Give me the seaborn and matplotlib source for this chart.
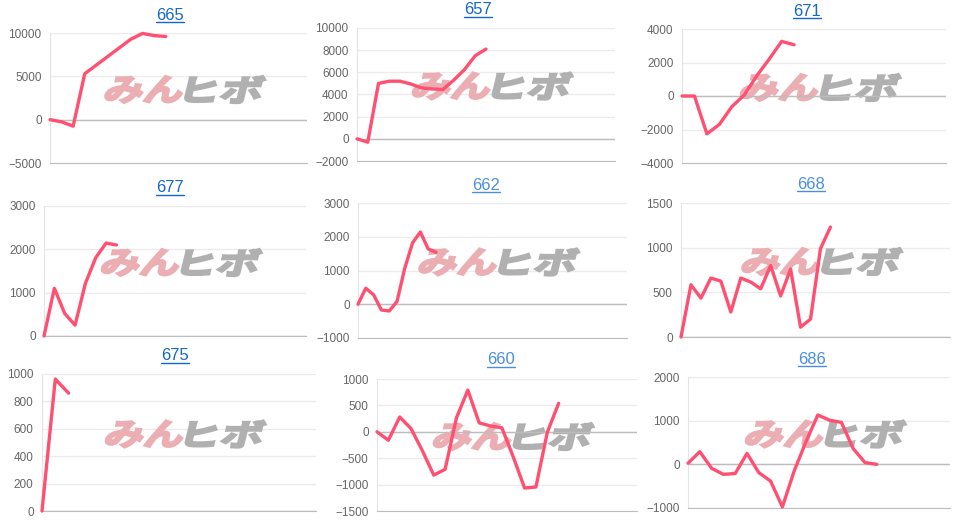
"""
Nine small slot-data line charts (machine numbers as titles),
laid out 3x3 with the site watermark behind each line.
"""
import numpy as np
import pandas as pd
import matplotlib
matplotlib.use("Agg")
import matplotlib.pyplot as plt
import matplotlib.transforms as mtransforms
from matplotlib.textpath import TextPath
from matplotlib.patches import PathPatch
from matplotlib.font_manager import FontProperties
from matplotlib.lines import Line2D
import seaborn as sns

''' data '''
titles = ["665", "657", "671", "677", "662", "668", "675", "660", "686"]

v665 = [0, -250, -750, 5300, 6300, 7300, 8300, 9300, 9950, 9700, 9600]
v657 = [0, -300, 5000, 5200, 5200, 4950, 4600, 4500, 4450, 5300, 6250, 7500, 8100]
v671 = [0, 0, -2260, -1700, -640, 60, 1200, 2200, 3260, 3060]
v677 = [0, 1100, 520, 250, 1215, 1810, 2145, 2100]
v662 = [0, 475, 280, -170, -200, 80, 1070, 1820, 2140, 1640, 1540]
v668 = [0, 585, 435, 660, 625, 280, 660, 615, 540, 800, 460, 760, 110, 200, 990, 1230]
v675 = [0, 963, 860]
v660 = [0, -160, 280, 60, -360, -820, -710, 265, 790, 170, 110, 75, -475, -1065, -1045, -10, 540]
v686 = [25, 290, -90, -230, -210, 250, -190, -385, -975, -150, 520, 1130, 1010, 960, 360, 40, 0]

series = [v665, v657, v671, v677, v662, v668, v675, v660, v686]

y_min = [-5000, -2000, -4000, 0, -1000, 0, 0, -1500, -1000]
y_max = [10000, 10000, 4000, 3000, 3000, 1500, 1000, 1000, 2000]
y_step = [5000, 2000, 2000, 1000, 1000, 500, 200, 500, 1000]
# width of each x axis, in data points
x_span = [22.2, 24.0, 21.2, 25.3, 34.5, 27.0, 20.6, 22.9, 22.2]

''' layout (pixels, top-left origin) '''
W, H = 960, 520
boxes = [(50, 33, 307, 163), (357, 28, 615, 161), (682, 29, 946, 163),
         (44, 206, 306, 336), (358, 203, 627, 338), (681, 203, 950, 337),
         (42, 374, 316, 511), (377, 379, 637, 511), (688, 377, 950, 508)]
title_pos = [(170, 15), (478, 10), (807, 11),
             (170, 188), (486, 185), (811, 184),
             (175, 356), (501, 360), (812, 359)]
title_col = ["#1468c8", "#1468c8", "#1468c8", "#1468c8", "#4a8fdf",
             "#4a8fdf", "#1468c8", "#4a8fdf", "#4a8fdf"]

LINE = "#ff5071"
GRID = "#ebebeb"
ZERO = "#bdbdbd"


def add_watermark(ax):
    #"みん" pink + "ヒボ" grey, slanted, centred a bit up-right of the plot centre
    fp = FontProperties(family="Noto Sans CJK JP", weight="bold")
    for txt, col, x0 in (("みん", "#eaaeb3", -72), ("ヒボ", "#b0b0b0", 8)):
        tp = TextPath((0, 0), txt, size=1, prop=fp)
        ext = tp.get_extents()
        tr = (mtransforms.Affine2D()
              .translate(-ext.x0, -ext.y0)
              .scale(76 / ext.width, 27 / ext.height)
              .skew_deg(14, 0)
              .translate(x0 - 3, -13 + 8)
              + mtransforms.ScaledTranslation(0.5, 0.5, ax.transAxes))
        #edge in the same colour makes the strokes heavier, like the logo
        ax.add_patch(PathPatch(tp, transform=tr, facecolor=col,
                               edgecolor=col, linewidth=1.6, zorder=1,
                               clip_on=False))


sns.set_style("white")
plt.rcParams['font.family'] = ['Liberation Sans', 'DejaVu Sans']

fig = plt.figure(figsize=(W / 100, H / 100), dpi=100)

texts = []
for i, vals in enumerate(series):
    l, t, r, b = boxes[i]
    ax = fig.add_axes([l / W, 1 - b / H, (r - l) / W, (b - t) / H])
    df = pd.DataFrame({"x": np.arange(len(vals)), "y": vals})

    add_watermark(ax)
    sns.lineplot(data=df, x="x", y="y", ax=ax, color=LINE, linewidth=2.4,
                 zorder=3, clip_on=False)

    ax.set_xlim(0, x_span[i])
    ax.set_ylim(y_min[i], y_max[i])
    ax.set_yticks(np.arange(y_min[i], y_max[i] + 1, y_step[i]))
    ax.set_xticks([])
    ax.set_xlabel("")
    ax.set_ylabel("")

    #grid + zero line
    ax.grid(axis="y", color=GRID, linewidth=1, zorder=0)
    ax.axhline(0, color=ZERO, linewidth=1, zorder=2)
    ax.tick_params(axis="y", length=4, width=1, color=GRID, pad=2,
                   labelsize=8.5, labelcolor="#666666")
    for s in ("top", "right"):
        ax.spines[s].set_visible(False)
    ax.spines["left"].set_color("#e4e4e4")
    ax.spines["bottom"].set_color(ZERO)
    ax.set_axisbelow(True)

    tx, ty = title_pos[i]
    texts.append(fig.text(tx / W, 1 - ty / H, titles[i], ha="center",
                          va="center", fontsize=12, color=title_col[i]))

#underline the titles (they are links on the page)
fig.canvas.draw()
for t in texts:
    bb = t.get_window_extent()
    fig.add_artist(Line2D([bb.x0, bb.x1], [bb.y0 + 1, bb.y0 + 1],
                          transform=mtransforms.IdentityTransform(),
                          color=t.get_color(), linewidth=1))

fig.savefig("out.png", dpi=100)
